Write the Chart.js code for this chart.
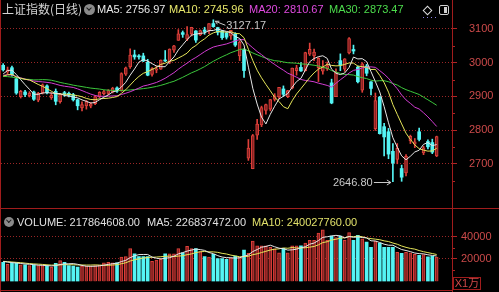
<!DOCTYPE html>
<html><head><meta charset="utf-8">
<script src="https://cdn.jsdelivr.net/npm/chart.js@4.4.1/dist/chart.umd.min.js"></script>
<style>
html,body{margin:0;padding:0;background:#000;}
#wrap{position:relative;width:499px;height:292px;overflow:hidden;background:#000;font-family:"Liberation Sans",Arial,sans-serif;}
canvas{position:absolute;left:0;}
.t{position:absolute;font-size:11px;line-height:14px;white-space:nowrap;}
.ln{position:absolute;background:#a01c1c;}
</style></head><body>
<div id="wrap">
<canvas id="main" width="499" height="208" style="top:0"></canvas>
<canvas id="vol" width="499" height="83" style="top:209px"></canvas>

<div class="ln" style="left:0;top:0;width:1px;height:292px"></div>
<div class="ln" style="left:452px;top:0;width:1px;height:292px"></div>
<div class="ln" style="left:0;top:208px;width:499px;height:1px"></div>
<div class="ln" style="left:0;top:290px;width:453px;height:1px"></div>

<div class="t" style="left:2px;top:2px;font-size:12px;font-family:'Noto Sans CJK SC',sans-serif;color:#d4d4d4">上证指数(日线)</div>
<div style="position:absolute;left:83.5px;top:3.5px;width:11px;height:11px;border-radius:50%;background:#8a8a8a"></div>
<div style="position:absolute;left:87px;top:5.5px;width:3px;height:3px;border-right:1.5px solid #1a1a1a;border-bottom:1.5px solid #1a1a1a;transform:rotate(45deg)"></div>
<div class="t" style="left:97px;top:2px;color:#e8e8e8">MA5: 2756.97</div>
<div class="t" style="left:169px;top:2px;color:#e8e86a">MA10: 2745.96</div>
<div class="t" style="left:249px;top:2px;color:#e04ae0">MA20: 2810.67</div>
<div class="t" style="left:329px;top:2px;color:#4cdc4c">MA30: 2873.47</div>
<div style="position:absolute;left:424px;top:6.5px;width:7px;height:7px;box-sizing:border-box;border:1px solid #e0e0e0;transform:rotate(45deg)"></div>
<div style="position:absolute;left:423px;top:17px;width:1px;height:1px;background:#8a7fe0"></div>
<div style="position:absolute;left:427px;top:17px;width:1px;height:1px;background:#8a7fe0"></div>
<div style="position:absolute;left:431px;top:17px;width:1px;height:1px;background:#8a7fe0"></div>
<div style="position:absolute;left:435px;top:17px;width:1px;height:1px;background:#8a7fe0"></div>
<div style="position:absolute;left:439px;top:5px;width:10px;height:10px;box-sizing:border-box;border:1px solid #d0d0d0;border-radius:2px"></div>
<div style="position:absolute;left:444px;top:7px;width:3px;height:6px;background:#d0d0d0"></div>

<div class="t" id="hiLbl" style="color:#c8c8c8"></div>
<div class="t" id="loLbl" style="color:#c8c8c8"></div>

<div style="position:absolute;left:3.5px;top:216.5px;width:10px;height:10px;border-radius:50%;background:#8a8a8a"></div>
<div style="position:absolute;left:6.8px;top:218.3px;width:2.6px;height:2.6px;border-right:1.5px solid #1a1a1a;border-bottom:1.5px solid #1a1a1a;transform:rotate(45deg)"></div>
<div class="t" style="left:17px;top:214.5px;color:#e0e0e0">VOLUME: 217864608.00</div>
<div class="t" style="left:147px;top:214.5px;color:#e0e0e0">MA5: 226837472.00</div>
<div class="t" style="left:252px;top:214.5px;color:#e0e06a">MA10: 240027760.00</div>

<div class="t" style="left:453px;top:277px;width:28px;height:13px;box-sizing:border-box;border:1px solid #a01c1c;color:#d04848;line-height:11px;text-align:center;font-family:'Liberation Sans','Noto Sans CJK SC',sans-serif">X1万</div>
</div>

<script>
// ---- data (Shanghai Composite, daily) ----
const dates = ['11-06','11-07','11-08','11-11','11-12','11-13','11-14','11-15','11-18','11-19',
'11-20','11-21','11-22','11-25','11-26','11-27','11-28','11-29','12-02','12-03',
'12-04','12-05','12-06','12-09','12-10','12-11','12-12','12-13','12-16','12-17',
'12-18','12-19','12-20','12-23','12-24','12-25','12-26','12-27','12-30','12-31',
'01-02','01-03','01-06','01-07','01-08','01-09','01-10','01-13','01-14','01-15',
'01-16','01-17','01-20','01-21','01-22','01-23','02-03','02-04','02-05','02-06',
'02-07','02-10','02-11','02-12','02-13','02-14','02-17','02-18','02-19','02-20',
'02-21','02-24','02-25','02-26','02-27','02-28','03-02','03-03','03-04','03-05',
'03-06','03-09','03-10','03-11','03-12','03-13','03-16','03-17','03-18','03-19',
'03-20','03-23','03-24','03-25','03-26','03-27','03-30','03-31','04-01','04-02'];

const opens = [2992,2972,2985,2952,2899,2913,2902,2913,2889,2911,
2931,2896,2915,2884,2911,2909,2905,2890,2866,2872,
2871,2878,2899,2908,2909,2913,2925,2917,2966,2987,
3023,3020,3020,3001,2965,2978,2981,3008,3001,3037,
3066,3089,3070,3085,3094,3082,3097,3094,3116,3104,
3094,3088,3079,3085,3020,3038,2716.7,2685.27,2785,2815,
2858,2862,2891,2898,2922,2899,2924,2976,2986,2976,
3025,3020,2985,2975,2982,2940,2899,3006,2981,3029,
3039,2987,2918,2990,2943,2804,2898,2810,2795,2737,
2713,2686,2673,2768,2758,2795,2732,2766,2763,2723];

const highs = [2997,2987,2990,2956,2918,2918,2914,2916,2912,2937,
2934,2911,2922,2908,2915,2913,2909,2892,2884,2888,
2882,2902,2914,2918,2920,2927,2928,2970,2987,3041,
3037,3024,3028,3010,2985,2990,3008,3036,3041,3051,
3098,3094,3107,3105,3095,3097,3105,3116,3127.17,3105,
3096,3090,3096,3089,3065,3041,2772,2787,2832,2871,
2877,2891,2908,2927,2931,2918,2984,2992,3000,3031,
3058,3040,3015,3006,3002,2951,2982,3026,3012,3074,
3052,2990,3000,2995,2944,2910,2900,2820,2805,2760,
2760,2696,2727,2785,2775,2806,2752,2771,2773,2782];

const lows = [2975,2967,2960,2906,2895,2899,2898,2888,2884,2907,
2907,2891,2875,2880,2900,2898,2886,2860,2857,2862,
2866,2875,2896,2904,2905,2910,2912,2915,2962,2983,
3010,3010,3003,2961,2960,2970,2980,3003,2997,3030,
3066,3075,3065,3079,3060,3080,3084,3086,3105,3082,
3069,3070,3069,3048,3006,2956,2710,2685.27,2772,2810,
2847,2857,2886,2893,2900,2896,2922,2963,2974,2975,
3021,3006,2944,2966,2977,2878,2899,2976,2974,3026,
3026,2940,2912,2961,2904,2799,2788,2723,2715,2646.80,
2700,2648,2664,2760,2748,2768,2727,2744,2730,2721];

const closes = [2978.60,2978.71,2964.18,2909.97,2914.82,2905.24,2909.87,2891.34,2909.20,2933.99,
2911.05,2903.64,2885.29,2906.17,2907.06,2903.19,2889.69,2871.98,2875.81,2884.70,
2878.12,2899.47,2912.01,2914.48,2917.32,2924.42,2915.70,2967.68,2984.39,3022.42,
3017.04,3017.07,3004.94,2962.75,2982.68,2981.88,3007.35,3005.04,3040.02,3050.12,
3085.20,3083.79,3083.41,3104.80,3066.89,3094.88,3092.29,3115.57,3106.82,3090.04,
3074.08,3075.50,3095.79,3052.14,3060.75,2976.53,2746.61,2783.29,2818.09,2866.51,
2875.96,2890.49,2901.67,2926.90,2906.07,2917.01,2983.62,2984.97,2975.40,3030.15,
3039.67,3031.23,3013.05,2987.93,2991.33,2880.30,2970.93,2992.90,3011.67,3071.68,
3034.51,2943.29,2996.76,2968.52,2923.49,2887.43,2789.25,2779.64,2728.76,2702.13,
2745.62,2660.17,2722.44,2781.59,2764.91,2772.20,2747.21,2750.30,2734.52,2780.64];

const ma5 = [2966.6,2976.6,2977.8,2964.8,2949.4,2934.6,2920.8,2906.2,2906.0,2909.8,
2911.0,2909.8,2908.6,2908.0,2902.6,2901.0,2898.2,2895.6,2889.6,2885.2,
2880.2,2882.0,2890.0,2897.6,2904.0,2913.2,2916.6,2927.8,2941.8,2962.8,
2981.4,3001.6,3009.0,3004.8,2997.0,2990.0,2988.0,2988.0,3003.4,3016.8,
3037.4,3052.8,3068.4,3081.4,3084.8,3086.8,3088.4,3095.0,3095.4,3100.0,
3095.8,3092.6,3088.6,3077.6,3071.8,3052.4,2986.6,2924.0,2877.2,2838.4,
2818.2,2846.8,2870.6,2892.4,2900.2,2908.4,2927.2,2943.8,2953.4,2978.2,
3002.8,3012.2,3017.8,3020.4,3012.6,2980.6,2968.6,2964.6,2969.4,2985.6,
3016.6,3011.0,3011.8,3003.2,2973.4,2943.8,2913.0,2869.6,2821.6,2777.4,
2749.2,2723.4,2711.8,2722.4,2735.0,2740.2,2757.6,2763.2,2753.8,2757.0];

const ma10 = [2960.1,2964.0,2964.9,2957.9,2954.0,2950.6,2948.7,2942.0,2935.4,2929.6,
2922.8,2915.3,2907.4,2907.0,2906.2,2906.0,2904.0,2902.1,2898.8,2893.9,
2890.6,2890.1,2892.8,2893.6,2894.6,2896.7,2899.3,2908.9,2919.7,2933.4,
2947.3,2959.1,2968.4,2973.3,2979.9,2985.7,2994.8,2998.5,3004.1,3006.9,
3013.7,3020.4,3028.2,3042.4,3050.8,3062.1,3070.6,3081.7,3088.4,3092.4,
3091.3,3090.5,3091.8,3086.5,3085.9,3074.1,3039.6,3006.3,2977.4,2955.1,
2935.3,2916.7,2897.3,2884.8,2869.3,2863.3,2887.0,2907.2,2922.9,2939.2,
2955.6,2969.7,2980.8,2986.9,2995.4,2991.7,2990.4,2991.2,2994.9,2999.1,
2998.6,2989.8,2988.2,2986.3,2979.5,2980.2,2962.0,2940.7,2912.4,2875.4,
2846.5,2818.2,2790.7,2772.0,2756.2,2744.7,2740.5,2737.5,2738.1,2746.0];

const ma20 = [2962.5,2964.0,2963.5,2958.6,2954.8,2951.2,2947.9,2945.5,2944.0,2943.0,
2941.5,2939.7,2936.2,2932.5,2930.1,2928.3,2926.4,2922.1,2917.1,2911.8,
2906.7,2902.7,2900.1,2900.3,2900.4,2901.4,2901.7,2905.5,2909.3,2913.7,
2919.0,2924.6,2930.6,2933.5,2937.3,2941.2,2947.1,2953.7,2961.9,2970.2,
2980.5,2989.8,2998.3,3007.9,3015.4,3023.9,3032.7,3040.1,3046.3,3049.7,
3052.5,3055.5,3060.0,3064.5,3068.4,3068.1,3055.1,3044.0,3032.9,3023.8,
3013.3,3003.6,2994.6,2985.7,2977.6,2968.7,2963.3,2956.8,2950.2,2947.2,
2945.5,2943.2,2939.1,2935.9,2932.4,2927.5,2938.7,2949.2,2958.9,2969.2,
2977.1,2979.8,2984.5,2986.6,2987.5,2986.0,2976.2,2966.0,2953.7,2937.3,
2922.6,2904.0,2889.5,2879.2,2867.9,2862.5,2851.3,2839.1,2825.3,2810.7];

const ma30 = [2959.2,2958.5,2957.1,2954.9,2952.6,2950.9,2950.3,2948.9,2949.0,2949.7,
2949.2,2947.8,2944.8,2941.4,2938.6,2936.1,2933.2,2931.0,2928.9,2926.6,
2924.5,2923.1,2921.7,2919.5,2918.3,2917.8,2917.3,2917.7,2918.0,2919.0,
2920.2,2921.5,2922.9,2924.6,2926.9,2929.5,2932.7,2936.5,2940.9,2944.7,
2950.5,2956.5,2963.1,2969.8,2975.1,2981.5,2988.2,2996.4,3004.1,3010.9,
3017.4,3023.3,3029.5,3034.1,3038.9,3040.6,3035.0,3028.8,3023.3,3018.1,
3013.4,3009.2,3005.8,3004.6,3002.0,2999.8,2999.1,2998.4,2996.2,2995.6,
2994.1,2992.3,2990.0,2986.1,2983.5,2976.4,2972.3,2968.2,2965.1,2964.5,
2963.2,2958.7,2955.4,2952.7,2948.1,2945.1,2946.5,2946.4,2943.4,2937.9,
2933.6,2925.9,2919.9,2915.1,2910.4,2905.5,2897.6,2889.8,2881.8,2873.5];

// volume in units of 10k
const volumes = [17100,15300,16100,16600,14800,14800,14100,14500,14100,14100,
13600,12800,16100,18600,17100,14100,13600,12800,13600,13600,
13600,14100,14500,16600,17100,16600,16600,21600,22100,29200,
24600,22100,22100,22100,17800,19100,19600,24600,24600,24600,
29200,25400,31200,29200,29200,26700,22100,21600,24100,20400,
20400,19600,21000,22500,21500,28000,25000,36000,31700,31700,
31700,30400,29000,25400,29400,25400,31700,31700,31700,34200,
36700,36700,43000,46000,36700,40500,39200,40500,36700,43500,
36700,41000,37900,35000,30400,36000,34200,30400,30400,30400,
26000,25000,26000,25400,24212,23200,24000,22000,22430,21786];

const volMa5 = [17800,17200,16800,16400,15980,15520,15280,14960,14460,14320,
14080,13820,14140,15040,15640,15740,15900,15240,14240,13540,
13440,13540,13880,14480,15180,15780,16280,17700,18800,21220,
22820,23920,24020,24020,21740,20640,20140,20640,21140,22500,
24520,25680,27000,27920,28840,28340,27680,25760,24740,22980,
21720,21220,21100,20780,21000,22520,23600,26600,28440,30480,
31220,32300,30900,29640,29180,27920,28180,28720,29980,30940,
33200,34200,36460,39320,39820,40580,41080,40580,38720,40080,
39320,39680,39160,38820,36200,36060,34700,33200,32280,32280,
30280,28440,27560,26560,25322,24762,24562,23762,23168,22684];

const volMa10 = [17900,17600,17300,17000,16700,16300,15900,15600,15400,15150,
14800,14550,14550,14750,14980,14910,14860,14690,14640,14590,
14590,14720,14560,14360,14360,14610,14910,15790,16640,18200,
19300,20100,20860,21410,21480,21730,22030,22330,22580,22120,
22580,22910,23820,24530,25670,26430,26680,26380,26330,25910,
25030,24450,23430,22760,21990,22120,22410,23850,24610,25740,
26870,27950,28750,29040,29830,29570,30240,29810,29810,30060,
30560,31190,32590,34650,35380,36890,37640,38520,39020,39950,
39950,40380,39870,38770,38140,37690,37190,36180,35550,34240,
33170,31570,30380,29420,28800,27520,26500,25660,24860,24003];

const priceTicks = [2700, 2800, 2900, 3000, 3100];
const priceMinorTicks = [2650, 2750, 2850, 2950, 3050];
const volTicks = [20000, 40000];
const volMinorTicks = [10000, 30000];

// ---- styling ----
const UP_FILL = '#862222', UP_LINE = '#e0403a', DOWN = '#54f4f4';
const GRID = '#9a2626', TICK = '#b02424', AXIS_TXT = '#cc4a4a';
const isUp = i => closes[i] >= opens[i];
const labels = dates.concat(['', '', '']);   // right-hand margin slots

const minorTicks = {
  id: 'minorTicks',
  afterDraw(chart, args, opts) {
    const y = chart.scales.y, c = chart.ctx, x0 = chart.chartArea.right;
    c.save(); c.strokeStyle = TICK; c.lineWidth = 1;
    (opts.values || []).forEach(v => {
      const py = Math.round(y.getPixelForValue(v)) + 0.5;
      c.beginPath(); c.moveTo(x0, py); c.lineTo(x0 + 3, py); c.stroke();
    });
    c.restore();
  }
};

const extremes = {
  id: 'extremes',
  afterDraw(chart) {
    const xs = chart.scales.x, ys = chart.scales.y, c = chart.ctx;
    const hi = highs.indexOf(Math.max(...highs));
    const lo = lows.indexOf(Math.min(...lows));
    const hx = xs.getPixelForValue(hi), hy = ys.getPixelForValue(highs[hi]);
    const lx = xs.getPixelForValue(lo), ly = ys.getPixelForValue(lows[lo]);
    c.save(); c.strokeStyle = '#c8c8c8'; c.lineWidth = 1;
    c.beginPath(); c.moveTo(hx + 2, hy + 1.5); c.lineTo(hx + 12, hy + 5.5); c.stroke();
    c.beginPath(); c.moveTo(hx + 2, hy + 1.5); c.lineTo(hx + 6, hy + 1.5);
    c.moveTo(hx + 2, hy + 1.5); c.lineTo(hx + 4, hy + 4.5); c.stroke();
    const ay = Math.round(ly) + 0.5;
    c.beginPath(); c.moveTo(lx - 19, ay); c.lineTo(lx - 2, ay); c.stroke();
    c.beginPath(); c.moveTo(lx - 2, ay); c.lineTo(lx - 6, ay - 2.5);
    c.moveTo(lx - 2, ay); c.lineTo(lx - 6, ay + 2.5); c.stroke();
    c.restore();
    const hl = document.getElementById('hiLbl');
    hl.textContent = highs[hi].toFixed(2);
    hl.style.left = (hx + 13) + 'px'; hl.style.top = (hy + 5.5 - 7) + 'px';
    const ll = document.getElementById('loLbl');
    ll.textContent = lows[lo].toFixed(2);
    ll.style.left = (lx - 20 - ll.offsetWidth) + 'px'; ll.style.top = (ly + 0.5 - 7) + 'px';
  }
};

const lineDs = (label, data, color) => ({
  type: 'line', label, data, borderColor: color, borderWidth: 1,
  pointRadius: 0, tension: 0, fill: false, order: 0
});

const axisFont = { family: "'Liberation Sans', Arial, sans-serif", size: 11 };
const plainNum = v => String(v);

new Chart(document.getElementById('main'), {
  type: 'bar',
  data: {
    labels,
    datasets: [
      lineDs('MA5', ma5, '#e6e6e6'),
      lineDs('MA10', ma10, '#e6e65a'),
      lineDs('MA20', ma20, '#d23cd2'),
      lineDs('MA30', ma30, '#3cc83c'),
      {
        type: 'bar', label: 'body',
        data: closes.map((c, i) => [opens[i], c]),
        backgroundColor: ctx => isUp(ctx.dataIndex) ? UP_FILL : DOWN,
        borderColor: ctx => isUp(ctx.dataIndex) ? UP_LINE : DOWN,
        borderWidth: ctx => isUp(ctx.dataIndex) ? 1 : 0,
        borderSkipped: false, barThickness: 3, grouped: false, minBarLength: 1,
        clip: false, order: 1
      },
      {
        type: 'bar', label: 'wick',
        data: highs.map((h, i) => [lows[i], h]),
        backgroundColor: ctx => isUp(ctx.dataIndex) ? UP_LINE : DOWN,
        borderWidth: 0, barThickness: 1, grouped: false, clip: false, order: 2
      }
    ]
  },
  options: {
    responsive: false, animation: false, devicePixelRatio: 1, events: [],
    layout: { padding: { top: 20, left: 1, right: 0, bottom: 1 } },
    plugins: { legend: { display: false }, tooltip: { enabled: false },
               minorTicks: { values: priceMinorTicks } },
    scales: {
      x: { display: false, offset: true },
      y: {
        position: 'right', min: 2624, max: 3126.5,
        afterFit: s => { s.width = 47; },
        afterBuildTicks: s => { s.ticks = priceTicks.map(v => ({ value: v })); },
        ticks: { color: AXIS_TXT, font: axisFont, padding: 12, callback: plainNum },
        grid: { color: GRID, lineWidth: 1, drawTicks: true, tickLength: 5, tickColor: TICK, tickWidth: 1, tickBorderDash: [] },
        border: { display: false, dash: [1, 2] }
      }
    }
  },
  plugins: [minorTicks, extremes]
});

new Chart(document.getElementById('vol'), {
  type: 'bar',
  data: {
    labels,
    datasets: [
      lineDs('MA5', volMa5, '#e6e6e6'),
      lineDs('MA10', volMa10, '#e6e65a'),
      {
        type: 'bar', label: 'VOLUME', data: volumes,
        backgroundColor: ctx => isUp(ctx.dataIndex) ? UP_FILL : DOWN,
        borderColor: ctx => isUp(ctx.dataIndex) ? UP_LINE : DOWN,
        borderWidth: ctx => isUp(ctx.dataIndex) ? 1 : 0,
        borderSkipped: 'start', barThickness: 3, grouped: false, order: 1
      }
    ]
  },
  options: {
    responsive: false, animation: false, devicePixelRatio: 1, events: [],
    layout: { padding: { top: 18.6, left: 1, right: 0, bottom: 2 } },
    plugins: { legend: { display: false }, tooltip: { enabled: false },
               minorTicks: { values: volMinorTicks } },
    scales: {
      x: { display: false, offset: true },
      y: {
        position: 'right', min: 0, max: 48000,
        afterFit: s => { s.width = 47; },
        afterBuildTicks: s => { s.ticks = volTicks.map(v => ({ value: v })); },
        ticks: { color: AXIS_TXT, font: axisFont, padding: 4, callback: plainNum },
        grid: { color: GRID, lineWidth: 1, drawTicks: true, tickLength: 5, tickColor: TICK, tickWidth: 1, tickBorderDash: [] },
        border: { display: false, dash: [1, 2] }
      }
    }
  },
  plugins: [minorTicks]
});
</script>
</body></html>
